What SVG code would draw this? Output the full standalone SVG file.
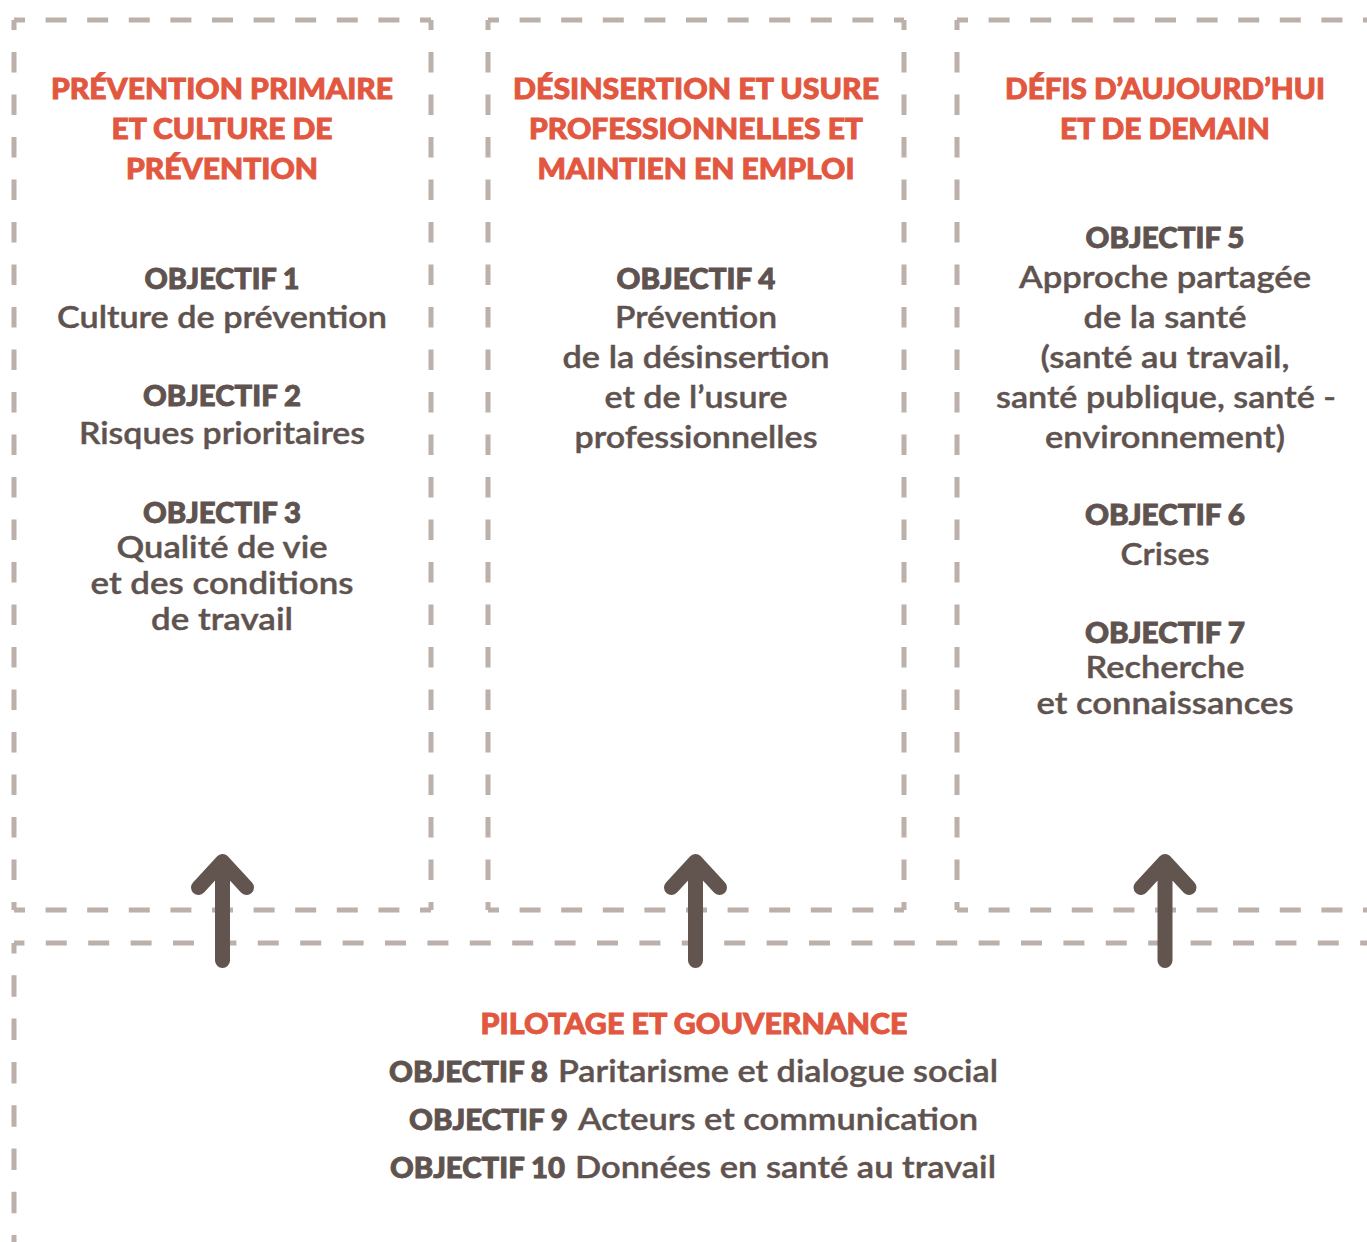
<svg xmlns="http://www.w3.org/2000/svg" width="1367" height="1242" viewBox="0 0 1367 1242">
<style>
.h{stroke:#bcb0aa;stroke-width:5;fill:none;stroke-dasharray:21 20.6;stroke-dashoffset:10}
.v{stroke:#bcb0aa;stroke-width:5;fill:none;stroke-dasharray:20.5 22;stroke-dashoffset:10.5}
.hd{font-family:Lato,'Liberation Sans',sans-serif;font-weight:900;font-size:29px;fill:#e2573f;stroke:#e2573f;stroke-width:0.9;text-anchor:middle}
.ob{font-family:Lato,'Liberation Sans',sans-serif;font-weight:900;font-size:28px;fill:#5f5350;stroke:#5f5350;stroke-width:0.9;text-anchor:middle}
.tx{font-family:Lato,'Liberation Sans',sans-serif;font-weight:600;font-size:30px;fill:#5f5350;stroke:#5f5350;stroke-width:0.4;text-anchor:middle}
.b{font-weight:900;font-size:28px;stroke-width:0.9}
.arrow{stroke:#62544f;stroke-width:15;fill:none;stroke-linecap:round;stroke-linejoin:round}
</style>
<rect width="1367" height="1242" fill="#ffffff"/>
<g id="box1">
<line class="h" x1="14" y1="20" x2="431" y2="20"/>
<line class="h" x1="14" y1="910" x2="431" y2="910"/>
<line class="v" x1="14" y1="20" x2="14" y2="910"/>
<line class="v" x1="431" y1="20" x2="431" y2="910"/>
<text class="hd" x="222" y="99" textLength="342" lengthAdjust="spacingAndGlyphs">PRÉVENTION PRIMAIRE</text>
<text class="hd" x="222" y="139" textLength="221" lengthAdjust="spacingAndGlyphs">ET CULTURE DE</text>
<text class="hd" x="222" y="179" textLength="192" lengthAdjust="spacingAndGlyphs">PRÉVENTION</text>
<text class="ob" x="222" y="289" textLength="155" lengthAdjust="spacingAndGlyphs">OBJECTIF 1</text>
<text class="tx" x="222" y="328" textLength="330" lengthAdjust="spacingAndGlyphs">Culture de prévention</text>
<text class="ob" x="222" y="406" textLength="158" lengthAdjust="spacingAndGlyphs">OBJECTIF 2</text>
<text class="tx" x="222" y="444" textLength="286" lengthAdjust="spacingAndGlyphs">Risques prioritaires</text>
<text class="ob" x="222" y="523" textLength="158" lengthAdjust="spacingAndGlyphs">OBJECTIF 3</text>
<text class="tx" x="222" y="558" textLength="211" lengthAdjust="spacingAndGlyphs">Qualité de vie</text>
<text class="tx" x="222" y="594" textLength="263" lengthAdjust="spacingAndGlyphs">et des conditions</text>
<text class="tx" x="222" y="630" textLength="142" lengthAdjust="spacingAndGlyphs">de travail</text>
</g>
<g id="box2">
<line class="h" x1="488" y1="20" x2="904" y2="20"/>
<line class="h" x1="488" y1="910" x2="904" y2="910"/>
<line class="v" x1="488" y1="20" x2="488" y2="910"/>
<line class="v" x1="904" y1="20" x2="904" y2="910"/>
<text class="hd" x="696" y="99" textLength="366" lengthAdjust="spacingAndGlyphs">DÉSINSERTION ET USURE</text>
<text class="hd" x="696" y="139" textLength="334" lengthAdjust="spacingAndGlyphs">PROFESSIONNELLES ET</text>
<text class="hd" x="696" y="179" textLength="317" lengthAdjust="spacingAndGlyphs">MAINTIEN EN EMPLOI</text>
<text class="ob" x="696" y="289" textLength="159" lengthAdjust="spacingAndGlyphs">OBJECTIF 4</text>
<text class="tx" x="696" y="328" textLength="162" lengthAdjust="spacingAndGlyphs">Prévention</text>
<text class="tx" x="696" y="368" textLength="267" lengthAdjust="spacingAndGlyphs">de la désinsertion</text>
<text class="tx" x="696" y="408" textLength="183" lengthAdjust="spacingAndGlyphs">et de l’usure</text>
<text class="tx" x="696" y="448" textLength="243" lengthAdjust="spacingAndGlyphs">professionnelles</text>
</g>
<g id="box3">
<line class="h" x1="957" y1="20" x2="1367" y2="20"/>
<line class="h" x1="957" y1="910" x2="1367" y2="910"/>
<line class="v" x1="957" y1="20" x2="957" y2="910"/>
<text class="hd" x="1165" y="99" textLength="320" lengthAdjust="spacingAndGlyphs">DÉFIS D’AUJOURD’HUI</text>
<text class="hd" x="1165" y="139" textLength="210" lengthAdjust="spacingAndGlyphs">ET DE DEMAIN</text>
<text class="ob" x="1165" y="248" textLength="159" lengthAdjust="spacingAndGlyphs">OBJECTIF 5</text>
<text class="tx" x="1165" y="288" textLength="292" lengthAdjust="spacingAndGlyphs">Approche partagée</text>
<text class="tx" x="1165" y="328" textLength="163" lengthAdjust="spacingAndGlyphs">de la santé</text>
<text class="tx" x="1165" y="368" textLength="249" lengthAdjust="spacingAndGlyphs">(santé au travail,</text>
<text class="tx" x="1166" y="408" textLength="340" lengthAdjust="spacingAndGlyphs">santé publique, santé -</text>
<text class="tx" x="1165" y="448" textLength="240" lengthAdjust="spacingAndGlyphs">environnement)</text>
<text class="ob" x="1165" y="525" textLength="160" lengthAdjust="spacingAndGlyphs">OBJECTIF 6</text>
<text class="tx" x="1165" y="565" textLength="89" lengthAdjust="spacingAndGlyphs">Crises</text>
<text class="ob" x="1165" y="643" textLength="160" lengthAdjust="spacingAndGlyphs">OBJECTIF 7</text>
<text class="tx" x="1165" y="678" textLength="159" lengthAdjust="spacingAndGlyphs">Recherche</text>
<text class="tx" x="1165" y="714" textLength="257" lengthAdjust="spacingAndGlyphs">et connaissances</text>
</g>
<g id="box4">
<line class="h" x1="14" y1="943" x2="1367" y2="943" style="stroke-dasharray:21 21.4;stroke-dashoffset:10.6"/>
<line class="v" x1="14" y1="943" x2="14" y2="1242" style="stroke-dasharray:21.5 21.8;stroke-dashoffset:11"/>
<text class="hd" x="694" y="1034" textLength="427" lengthAdjust="spacingAndGlyphs">PILOTAGE ET GOUVERNANCE</text>
<text class="tx" y="1082" style="text-anchor:start"><tspan class="b" x="389" textLength="159" lengthAdjust="spacingAndGlyphs">OBJECTIF 8</tspan><tspan x="558" textLength="440" lengthAdjust="spacingAndGlyphs">Paritarisme et dialogue social</tspan></text>
<text class="tx" y="1130" style="text-anchor:start"><tspan class="b" x="409" textLength="159" lengthAdjust="spacingAndGlyphs">OBJECTIF 9</tspan><tspan x="578" textLength="400" lengthAdjust="spacingAndGlyphs">Acteurs et communication</tspan></text>
<text class="tx" y="1178" style="text-anchor:start"><tspan class="b" x="390" textLength="175" lengthAdjust="spacingAndGlyphs">OBJECTIF 10</tspan><tspan x="575" textLength="421" lengthAdjust="spacingAndGlyphs">Données en santé au travail</tspan></text>
</g>
<g id="connectors">
<path class="arrow" d="M222.5 960.5V862M198.5 887.5L222.5 861.5L246.5 887.5"/>
<path class="arrow" d="M695.5 960.5V862M671.5 887.5L695.5 861.5L719.5 887.5"/>
<path class="arrow" d="M1165 960.5V862M1141 887.5L1165 861.5L1189 887.5"/>
</g>
</svg>
